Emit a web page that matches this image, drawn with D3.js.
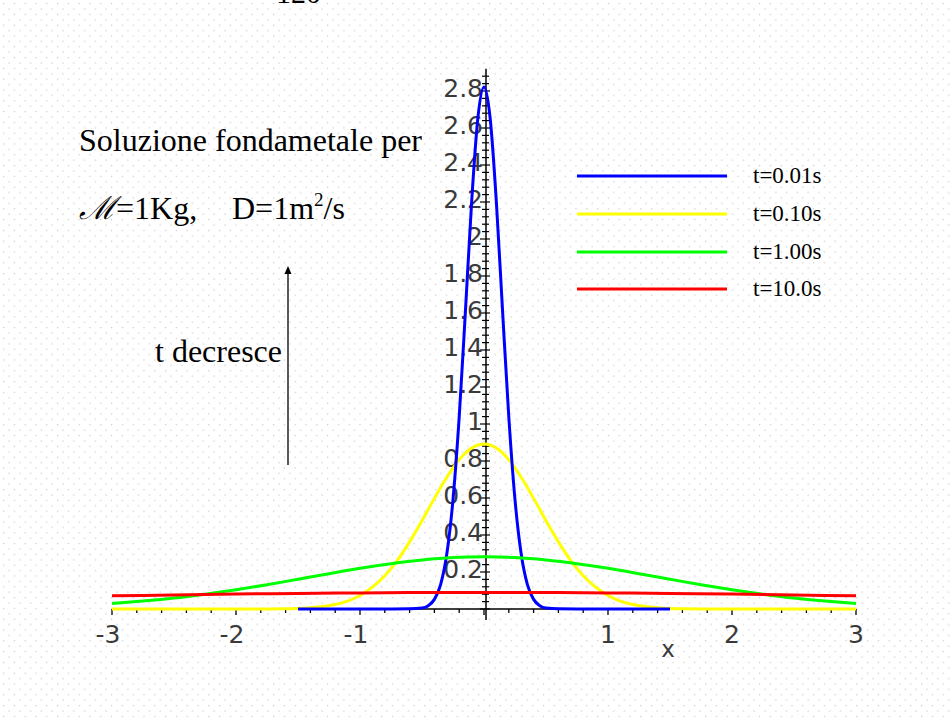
<!DOCTYPE html>
<html>
<head>
<meta charset="utf-8">
<script src="https://cdn.jsdelivr.net/npm/d3@7"></script>
<style>
  body { margin: 0; background: #fff; }
  svg { display: block; }
</style>
</head>
<body>
<div id="chart"></div>
<script>
// values
var xBlue = [-1.5, -1.0, -0.6, -0.5, -0.45, -0.4, -0.35, -0.3, -0.25, -0.2, -0.15, -0.1, -0.05, 0,
    0.05, 0.1, 0.15, 0.2, 0.25, 0.3, 0.35, 0.4, 0.45, 0.5, 0.6, 1.0, 1.5];
var yBlue = [0, 0, 0.001, 0.005, 0.018, 0.052, 0.132, 0.297, 0.591, 1.038, 1.607, 2.197, 2.650, 2.821,
    2.650, 2.197, 1.607, 1.038, 0.591, 0.297, 0.132, 0.052, 0.018, 0.005, 0.001, 0, 0];

var xYellow = [-3, -2.5, -2, -1.6, -1.5, -1.4, -1.3, -1.2, -1.1, -1.0, -0.9, -0.8, -0.7, -0.6, -0.5, -0.4, -0.3, -0.2, -0.1, 0,
    0.1, 0.2, 0.3, 0.4, 0.5, 0.6, 0.7, 0.8, 0.9, 1.0, 1.1, 1.2, 1.3, 1.4, 1.5, 1.6, 2, 2.5, 3];
var yYellow = [0, 0, 0, 0.001, 0.003, 0.007, 0.013, 0.024, 0.043, 0.073, 0.118, 0.180, 0.262, 0.363, 0.477, 0.598, 0.712, 0.807, 0.870, 0.892,
    0.870, 0.807, 0.712, 0.598, 0.477, 0.363, 0.262, 0.180, 0.118, 0.073, 0.043, 0.024, 0.013, 0.007, 0.003, 0.001, 0, 0, 0];

var xGreen = [-3, -2.75, -2.5, -2.25, -2, -1.75, -1.5, -1.25, -1, -0.75, -0.5, -0.25, 0,
    0.25, 0.5, 0.75, 1, 1.25, 1.5, 1.75, 2, 2.25, 2.5, 2.75, 3];
var yGreen = [0.030, 0.043, 0.059, 0.080, 0.104, 0.131, 0.161, 0.191, 0.220, 0.245, 0.265, 0.278, 0.282,
    0.278, 0.265, 0.245, 0.220, 0.191, 0.161, 0.131, 0.104, 0.080, 0.059, 0.043, 0.030];

var xRed = [-3, -2.5, -2, -1.5, -1, -0.5, 0, 0.5, 1, 1.5, 2, 2.5, 3];
var yRed = [0.071, 0.076, 0.081, 0.084, 0.087, 0.089, 0.089, 0.089, 0.087, 0.084, 0.081, 0.076, 0.071];

var seriesNames = ["t=0.01s", "t=0.10s", "t=1.00s", "t=10.0s"];
var seriesColors = ["#0000ff", "#ffff00", "#00ff00", "#ff0000"];

var xTicks = [-3, -2, -1, 1, 2, 3];
var yTicks = [0.2, 0.4, 0.6, 0.8, 1, 1.2, 1.4, 1.6, 1.8, 2, 2.2, 2.4, 2.6, 2.8];

//svg dimensions
var svgWidth = 952;
var svgHeight = 719;

var svg = d3.select("#chart").append("svg")
    .attr("width", svgWidth)
    .attr("height", svgHeight);

//dotted slide background
var pat = svg.append("defs").append("pattern")
    .attr("id", "dots")
    .attr("patternUnits", "userSpaceOnUse")
    .attr("x", 3)
    .attr("y", 3)
    .attr("width", 10.8)
    .attr("height", 10.8);
pat.append("rect").attr("x", 0).attr("y", 0).attr("width", 1.2).attr("height", 1.2).attr("fill", "#c8c8c8");
pat.append("rect").attr("x", 5.4).attr("y", 5.4).attr("width", 1.2).attr("height", 1.2).attr("fill", "#c8c8c8");
svg.append("rect").attr("width", svgWidth).attr("height", svgHeight).attr("fill", "#fff");
svg.append("rect").attr("width", svgWidth).attr("height", svgHeight).attr("fill", "url(#dots)");

//clipped page number at the top
svg.append("text")
    .attr("x", 276)
    .attr("y", 3)
    .attr("font-family", "Liberation Serif")
    .attr("font-size", 30)
    .attr("fill", "#000")
    .text("120");

//scales
var xScale = d3.scaleLinear().domain([-3, 3]).range([112, 856]);
var yScale = d3.scaleLinear().domain([0, 2.8]).range([609, 91]);

var plot = svg.append("g");
var tickFont = "DejaVu Sans";

//x axis
plot.append("line")
    .attr("x1", xScale(-3)).attr("x2", xScale(3))
    .attr("y1", yScale(0)).attr("y2", yScale(0))
    .attr("stroke", "#000").attr("stroke-width", 1.5);
var xMinor = d3.range(-15, 16).map(d => d / 5);
plot.selectAll(".xtick")
    .data(xMinor)
    .enter()
    .append("line")
    .attr("x1", d => xScale(d)).attr("x2", d => xScale(d))
    .attr("y1", yScale(0))
    .attr("y2", d => yScale(0) + (Math.abs(d % 1) < 1e-9 ? 6 : 4))
    .attr("stroke", "#000").attr("stroke-width", 1.3);
plot.selectAll(".xlab")
    .data(xTicks)
    .enter()
    .append("text")
    .attr("x", d => xScale(d) - (d < 0 ? 4 : 0))
    .attr("y", 643)
    .attr("text-anchor", "middle")
    .attr("font-family", tickFont)
    .attr("font-size", 25)
    .attr("fill", "#3a3a3a")
    .text(d => d < 0 ? "-" + Math.abs(d) : d);
plot.append("text")
    .attr("x", 668).attr("y", 657)
    .attr("text-anchor", "middle")
    .attr("font-family", tickFont)
    .attr("font-size", 23)
    .attr("fill", "#3a3a3a")
    .text("x");

//y axis
var y0x = xScale(0) + 2;
plot.append("line")
    .attr("x1", y0x).attr("x2", y0x)
    .attr("y1", yScale(-0.06)).attr("y2", yScale(2.92))
    .attr("stroke", "#000").attr("stroke-width", 1.5);
var yMinor = d3.range(0, 73).map(d => d * 0.04);
plot.selectAll(".ytick")
    .data(yMinor)
    .enter()
    .append("line")
    .attr("x1", (d, i) => y0x - (i % 5 === 0 ? 6 : 4))
    .attr("x2", (d, i) => y0x + (i % 5 === 0 ? 4 : 3))
    .attr("y1", d => yScale(d)).attr("y2", d => yScale(d))
    .attr("stroke", "#000").attr("stroke-width", 1.2);
plot.selectAll(".ylab")
    .data(yTicks)
    .enter()
    .append("text")
    .attr("x", y0x - 3)
    .attr("y", d => yScale(d) + 6)
    .attr("text-anchor", "end")
    .attr("font-family", tickFont)
    .attr("font-size", 25)
    .attr("fill", "#3a3a3a")
    .text(d => d);

//curves
var line = d3.line()
    .x(d => xScale(d[0]))
    .y(d => yScale(d[1]))
    .curve(d3.curveMonotoneX);
var curves = [
    [xYellow, yYellow, 1],
    [xBlue, yBlue, 0],
    [xGreen, yGreen, 2],
    [xRed, yRed, 3]
];
curves.forEach(function (c) {
    plot.append("path")
        .datum(d3.zip(c[0], c[1]))
        .attr("d", line)
        .attr("fill", "none")
        .attr("stroke", seriesColors[c[2]])
        .attr("stroke-width", 3)
        .attr("stroke-linejoin", "round");
});

//legend
var legendY = [176, 214, 252, 289];
var legend = svg.append("g");
seriesNames.forEach(function (name, i) {
    legend.append("line")
        .attr("x1", 577).attr("x2", 727)
        .attr("y1", legendY[i]).attr("y2", legendY[i])
        .attr("stroke", seriesColors[i])
        .attr("stroke-width", 3);
    legend.append("text")
        .attr("x", 753)
        .attr("y", legendY[i] + 7)
        .attr("font-family", "Liberation Serif")
        .attr("font-size", 23)
        .attr("fill", "#000")
        .text(name);
});

//annotations
svg.append("text")
    .attr("x", 79).attr("y", 151)
    .attr("font-family", "Liberation Serif")
    .attr("font-size", 32)
    .attr("fill", "#000")
    .text("Soluzione fondametale per");

var params = svg.append("text")
    .attr("x", 79).attr("y", 219)
    .attr("font-family", "Liberation Serif, DejaVu Serif")
    .attr("font-size", 32)
    .attr("fill", "#000");
params.append("tspan").attr("font-style", "italic").text("\u2133");
params.append("tspan").text("=1Kg,");
params.append("tspan").attr("x", 232).text("D=1m");
params.append("tspan").attr("font-size", 19).attr("dy", -13).text("2");
params.append("tspan").attr("dy", 13).text("/s");

svg.append("text")
    .attr("x", 155).attr("y", 362)
    .attr("font-family", "Liberation Serif")
    .attr("font-size", 32)
    .attr("fill", "#000")
    .text("t decresce");

svg.append("line")
    .attr("x1", 288).attr("x2", 288)
    .attr("y1", 465).attr("y2", 272)
    .attr("stroke", "#000").attr("stroke-width", 1.3);
svg.append("path")
    .attr("d", "M288,266 L284.5,274 L291.5,274 Z")
    .attr("fill", "#000");
</script>
</body>
</html>
